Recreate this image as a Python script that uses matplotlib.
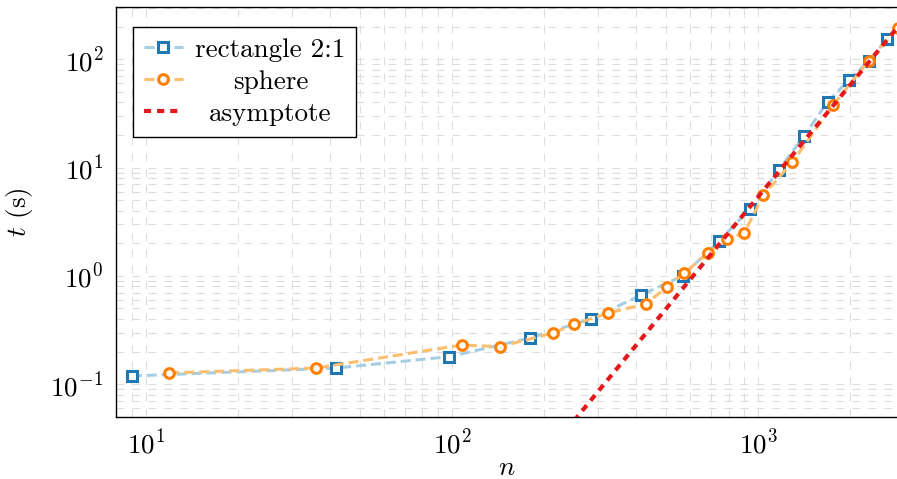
import matplotlib
matplotlib.use('Agg')
import matplotlib.pyplot as plt
from matplotlib.ticker import LogLocator, NullFormatter

plt.rcParams['font.family'] = 'serif'
plt.rcParams['font.serif'] = ['cmr10']
plt.rcParams['mathtext.fontset'] = 'cm'
plt.rcParams['axes.formatter.use_mathtext'] = True
plt.rcParams['axes.unicode_minus'] = False

# data
rect_n = [9.0, 41.8, 98.0, 179.8, 283.6, 413, 566.5, 742.5, 939.5, 1166, 1413, 1685, 1982, 2293, 2638]
rect_t = [0.119, 0.141, 0.1795, 0.267, 0.400, 0.662, 1.00, 2.09, 4.15, 9.50, 19.7, 40.6, 64.8, 96.4, 155]
sph_n = [11.94, 36.0, 107.6, 143.4, 213.6, 250.7, 322.3, 430, 502, 572, 683.6, 790.5, 898.3,
         1038.3, 1291, 1757.6, 2293, 2850]
sph_t = [0.127, 0.141, 0.230, 0.222, 0.297, 0.357, 0.452, 0.554, 0.785, 1.057, 1.617, 2.21, 2.47,
         5.55, 11.2, 38.1, 96.4, 195.8]
asym_n = [250, 2850]
asym_t = [0.0458, 198]

labels = ['rectangle 2:1', 'sphere', 'asymptote']

FS = 19.5
W, H = 897, 479
fig = plt.figure(figsize=(W / 100, H / 100), dpi=100)
ax = fig.add_axes([116 / W, 1 - 416.5 / H, (897.6 - 116) / W, (416.5 - 7) / H])

ax.plot(rect_n, rect_t, color='#a6cee3', lw=2.2, linestyle=(0, (3.3, 1.6)),
        marker='s', ms=7.4, mew=2.2, mec='#1f78b4', mfc='white', label=labels[0], zorder=3)
ax.plot(sph_n, sph_t, color='#fdbf6f', lw=2.2, linestyle=(0, (3.3, 1.6)),
        marker='o', ms=7.0, mew=2.2, mec='#ff7f00', mfc='white', label=labels[1], zorder=3)
ax.plot(asym_n, asym_t, color='#e31a1c', lw=3.0, linestyle=(0, (1.7, 1.45)),
        label=labels[2], zorder=4)

ax.set_xscale('log')
ax.set_yscale('log')
ax.set_xlim(8.0, 2850)
ax.set_ylim(0.0503, 304)

for axis in (ax.xaxis, ax.yaxis):
    axis.set_major_locator(LogLocator(base=10, numticks=20))
    axis.set_minor_locator(LogLocator(base=10, subs=[2, 3, 4, 5, 6, 7, 8, 9], numticks=20))
    axis.set_minor_formatter(NullFormatter())

ax.set_axisbelow(True)
ax.grid(True, which='both', color='#dddddd', lw=0.8, linestyle=(0, (7.2, 7.2)))
ax.tick_params(which='both', length=0, labelsize=FS, pad=9)

for s in ax.spines.values():
    s.set_linewidth(1.0)
    s.set_color('black')

ax.set_xlabel('$n$', fontsize=FS, labelpad=-2)
ax.set_ylabel('$t$ (s)', fontsize=FS, labelpad=11)

leg = ax.legend(loc='upper left', bbox_to_anchor=(133 / W, 1 - 27 / H),
                bbox_transform=fig.transFigure, borderaxespad=0, fontsize=FS,
                fancybox=False, framealpha=1, edgecolor='black', handlelength=1.45,
                labelspacing=0.3, borderpad=0.4, handletextpad=0.45)
leg.get_frame().set_linewidth(1.0)

fig.canvas.draw()
r = fig.canvas.get_renderer()
texts = leg.get_texts()
ws = [t.get_window_extent(r).width for t in texts]
mw = max(ws)
for t, w in zip(texts, ws):
    t.set_position(((mw - w) / 2, 0))

fig.savefig('out.png', dpi=100)
